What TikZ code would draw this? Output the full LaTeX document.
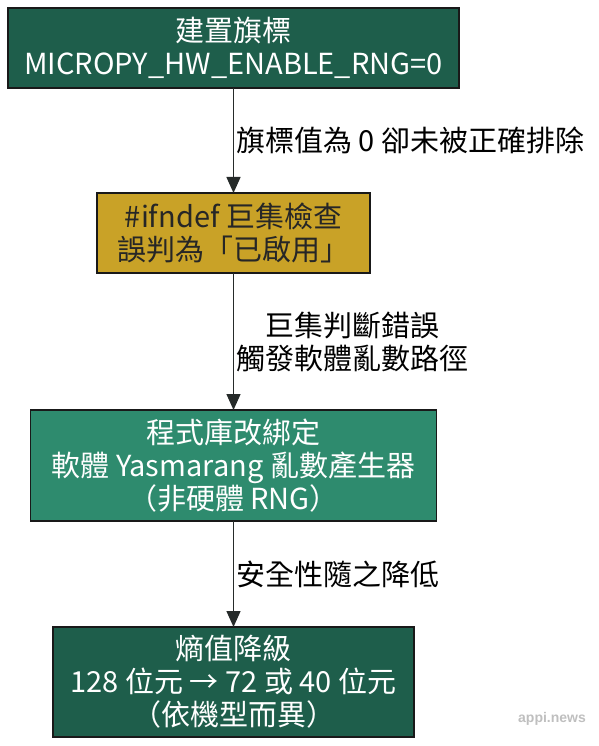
\documentclass[tikz,border=0pt]{standalone}
\usepackage{fontspec}
\newfontfamily\tcfont{Noto Sans CJK TC}
\newfontfamily\markfont{Liberation Sans}
\usetikzlibrary{arrows.meta,positioning}
\definecolor{deepgreen}{HTML}{1E5E4B}
\definecolor{midgreen}{HTML}{2E8B6E}
\definecolor{macrogold}{HTML}{C9A227}
\definecolor{edgegray}{HTML}{262B2A}
\tikzset{
    flowbox/.style={
        rectangle,
        draw=black!90,
        line width=1.6pt,
        inner sep=0pt,
        outer sep=0pt,
        align=center,
        font=\tcfont\fontsize{29}{33}\selectfont
    },
    greenbox/.style={
        flowbox,
        fill=deepgreen,
        text=white
    },
    goldbox/.style={
        flowbox,
        fill=macrogold,
        text=black!85
    }
}

\begin{document}
\begin{tikzpicture}[x=1pt, y=-1pt, >={Triangle[length=16pt,width=14pt]}]

    % Estilo para os rótulos das setas
    \tikzset{
        edgelabel/.style={right, inner sep=2pt, align=center, text=black,
            font=\tcfont\fontsize{29}{33}\selectfont}
    }

    \useasboundingbox (0,0) rectangle (598,746);

    % Caixas do fluxo, de cima para baixo
    \node[greenbox, minimum width=451pt, minimum height=80pt] (flag) at (233.5,48) {建置旗標\\MICROPY\_HW\_ENABLE\_RNG=0};
    \node[goldbox, minimum width=273pt, minimum height=80pt, below=105pt of flag] (check) {\#ifndef 巨集檢查\\誤判為「已啟用」};
    \node[greenbox, fill=midgreen, minimum width=406pt, minimum height=111pt, below=137pt of check] (rebind) {程式庫改綁定\\軟體 Yasmarang 亂數產生器\\（非硬體 RNG）};
    \node[greenbox, minimum width=361pt, minimum height=110pt, below=106pt of rebind] (entropy) {熵值降級\\128 位元 → 72 或 40 位元\\（依機型而異）};

    % Setas entre as caixas
    \path[->, draw=edgegray, fill=edgegray, line width=1.4pt]
        (flag) edge node[edgelabel] {旗標值為 0 卻未被正確排除} (check)
        (check) edge node[edgelabel] {巨集判斷錯誤\\觸發軟體亂數路徑} (rebind)
        (rebind) edge node[edgelabel] {安全性隨之降低} (entropy);

    % Marca d'água
    \node[font=\markfont\bfseries\fontsize{14}{16}\selectfont, text=black!25] (mark) at (552,719) {appi.news};

\end{tikzpicture}
\end{document}
